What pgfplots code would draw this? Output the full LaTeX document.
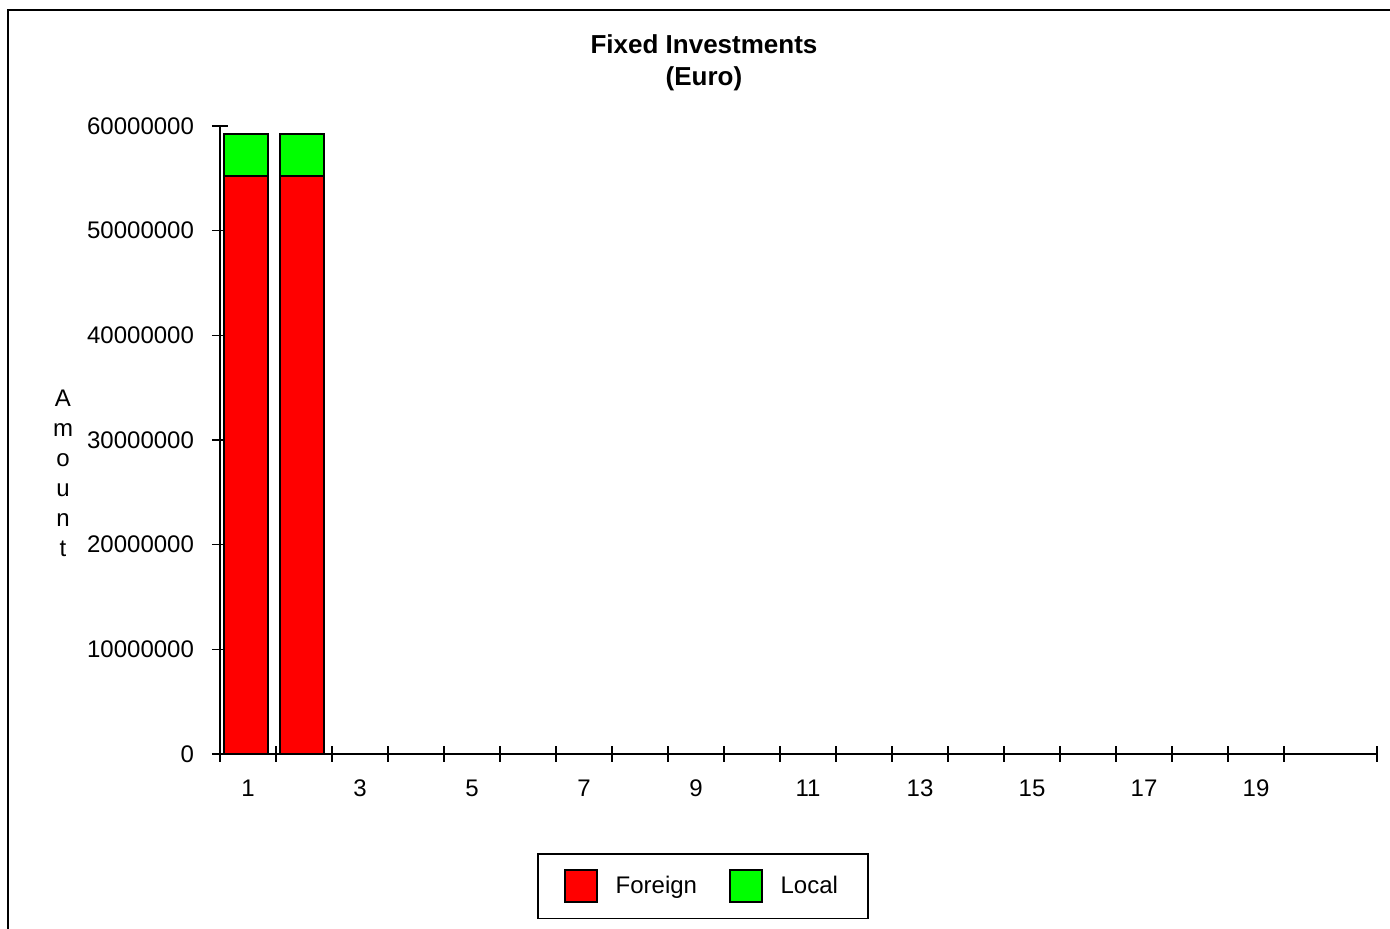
\documentclass[border=0pt]{standalone}
\usepackage{pgfplots}
\pgfplotsset{compat=1.18}
\usepackage{fontspec}
\setmainfont{Liberation Sans}
\definecolor{foreignred}{RGB}{255,0,0}
\definecolor{localgreen}{RGB}{0,255,0}

\begin{document}
\begin{tikzpicture}
\useasboundingbox (0pt,0pt) rectangle (695pt,464.5pt);
% outer frame
\draw[line width=0.8pt] (4pt,0pt) -- (4pt,459.5pt) -- (695pt,459.5pt);
% chart title
\node[align=center, font=\fontsize{13}{16}\selectfont\bfseries] at (352pt,433pt) {Fixed Investments\\(Euro)};

\begin{axis}[
  scale only axis,
  width=578.5pt, height=314pt,
  at={(110pt,87.5pt)}, anchor=south west,
  ybar stacked,
  bar width=22pt,
  bar shift=-1pt,
  xmin=0.5, xmax=21.16,
  ymin=0, ymax=60000000,
  axis x line*=bottom, axis y line*=left,
  axis line style={-, line width=0.8pt},
  tick align=center,
  major tick length=8pt,
  tick style={black, line width=0.8pt},
  xtick={0.5,1.5,...,19.5,21.16},
  xticklabels={},
  extra x ticks={1,3,...,19},
  extra x tick style={major tick length=0pt, tick style={draw=none},
    xticklabel style={yshift=-9.5pt}},
  ytick={0,10000000,...,60000000},
  scaled y ticks=false,
  /pgf/number format/assume math mode=true,
  yticklabel style={/pgf/number format/fixed, /pgf/number format/1000 sep={}, xshift=-5.5pt},
  tick label style={font=\fontsize{12}{14}\selectfont},
  ylabel={A\\m\\o\\u\\n\\t},
  ylabel style={rotate=-90, align=center, font=\fontsize{12}{15}\selectfont,
    at={(axis description cs:-0.1357,0.4475)}, anchor=center},
  legend columns=2,
  legend style={at={(axis description cs:0.4175,-0.2102)}, anchor=center,
    draw=black, line width=0.8pt, inner xsep=13pt, inner ysep=7.75pt,
    font=\fontsize{12}{14}\selectfont,
    /tikz/every even column/.append style={column sep=14pt}},
  legend image code/.code={\draw[#1, line width=0.8pt] (0pt,-8pt) rectangle (16pt,8pt);
    \path (23pt,0pt);},
]
\addplot[fill=foreignred, draw=black, line width=0.8pt] coordinates {
  (1,55200000) (2,55200000) (5,50000) (6,50000) (7,50000) (8,50000) (9,50000) (10,50000)
  (11,50000) (12,50000) (13,50000) (14,50000) (15,50000)};
\addplot[fill=localgreen, draw=black, line width=0.8pt] coordinates {
  (1,4050000) (2,4050000) (5,0) (6,0) (7,0) (8,0) (9,0) (10,0)
  (11,0) (12,0) (13,0) (14,0) (15,0)};
\legend{Foreign, Local}
\end{axis}
\end{tikzpicture}
\end{document}
